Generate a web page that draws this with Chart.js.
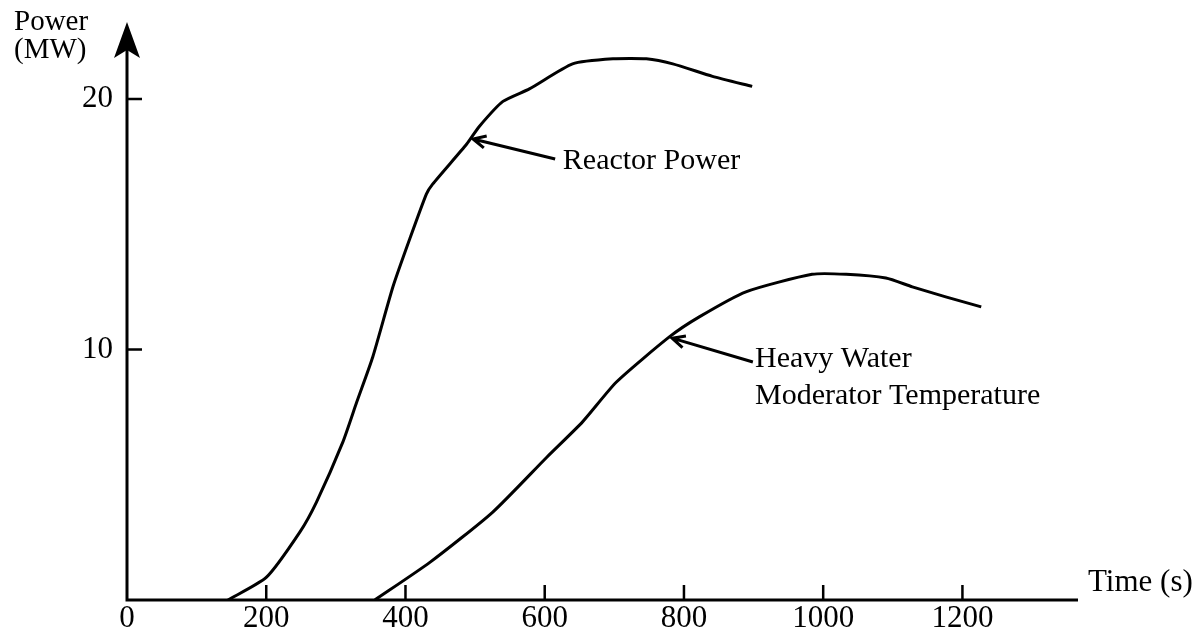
<!DOCTYPE html>
<html>
<head>
<meta charset="utf-8">
<script src="https://cdn.jsdelivr.net/npm/chart.js@4.4.1/dist/chart.umd.min.js"></script>
<style>
  html, body { margin: 0; padding: 0; background: #ffffff; }
  #wrap { width: 1196px; height: 629px; position: relative; }
</style>
</head>
<body>
<div id="wrap"><canvas id="c" width="1196" height="629"></canvas></div>
<script>
// ---- data ----
const reactorTime  = [145, 200, 248, 272, 310, 330, 353, 382, 406, 430, 439, 488, 506, 540, 578, 640, 698, 746, 784, 841, 898];
const reactorPower = [0, 0.9, 2.7, 3.9, 6.3, 7.9, 9.7, 12.5, 14.4, 16.2, 16.6, 18.2, 18.9, 19.9, 20.4, 21.4, 21.6, 21.6, 21.4, 20.9, 20.5];

const moderatorTime  = [356, 435, 525, 603, 654, 703, 779, 822, 889, 984, 1033, 1090, 1128, 1176, 1227];
const moderatorValue = [0, 1.5, 3.5, 5.7, 7.1, 8.7, 10.5, 11.3, 12.3, 13.0, 13.0, 12.85, 12.5, 12.1, 11.7];

const xTickValues = [0, 200, 400, 600, 800, 1000, 1200];
const yTickValues = [10, 20];

const yAxisTitle = ['Power', '(MW)'];
const xAxisTitle = 'Time (s)';
const reactorLabel = ['Reactor Power'];
const moderatorLabel = ['Heavy Water', 'Moderator Temperature'];

// ---- build chart ----
const FONT = '"Liberation Serif", "Times New Roman", serif';
const toXY = (xs, ys) => xs.map((x, i) => ({ x: x, y: ys[i] }));

const decorPlugin = {
  id: 'decor',
  afterDraw(chart, args, opts) {
    const ctx = chart.ctx;
    const xs = chart.scales.x, ys = chart.scales.y;
    const area = chart.chartArea;
    const x0 = xs.getPixelForValue(0), y0 = ys.getPixelForValue(0);
    ctx.save();
    ctx.strokeStyle = '#000';
    ctx.fillStyle = '#000';
    ctx.lineWidth = 3;
    ctx.lineCap = 'butt';
    // axes
    ctx.beginPath();
    ctx.moveTo(x0 - 1.5, y0); ctx.lineTo(area.right, y0);
    ctx.moveTo(x0, y0); ctx.lineTo(x0, area.top + 20);
    ctx.stroke();
    // arrow head on y axis
    ctx.beginPath();
    ctx.moveTo(x0, area.top);
    ctx.lineTo(x0 + 13, area.top + 36);
    ctx.lineTo(x0, area.top + 28);
    ctx.lineTo(x0 - 13, area.top + 36);
    ctx.closePath();
    ctx.fill();
    // inward tick marks
    ctx.lineWidth = 2.5;
    ctx.beginPath();
    xTickValues.forEach(v => {
      if (v === 0) return;
      const px = xs.getPixelForValue(v);
      ctx.moveTo(px, y0); ctx.lineTo(px, y0 - 15);
    });
    yTickValues.forEach(v => {
      const py = ys.getPixelForValue(v);
      ctx.moveTo(x0, py); ctx.lineTo(x0 + 15, py);
    });
    ctx.stroke();

    // texts
    ctx.font = '29px ' + FONT;
    ctx.textBaseline = 'middle';
    ctx.textAlign = 'left';
    ctx.fillText(yAxisTitle[0], 14, 22);
    ctx.fillText(yAxisTitle[1], 14, 50);
    ctx.font = '31px ' + FONT;
    ctx.fillText(xAxisTitle, area.right + 10, y0 - 17);

    // annotations
    ctx.font = '30px ' + FONT;
    opts.notes.forEach(n => {
      const tx = xs.getPixelForValue(n.tip[0]), ty = ys.getPixelForValue(n.tip[1]);
      const fx = xs.getPixelForValue(n.tail[0]), fy = ys.getPixelForValue(n.tail[1]);
      ctx.lineWidth = 3;
      ctx.beginPath();
      ctx.moveTo(fx, fy); ctx.lineTo(tx, ty);
      const ang = Math.atan2(fy - ty, fx - tx);
      const L = 14, sp = 0.45;
      ctx.moveTo(tx + L * Math.cos(ang + sp), ty + L * Math.sin(ang + sp));
      ctx.lineTo(tx, ty);
      ctx.lineTo(tx + L * Math.cos(ang - sp), ty + L * Math.sin(ang - sp));
      ctx.stroke();
      const lx = xs.getPixelForValue(n.text[0]), ly = ys.getPixelForValue(n.text[1]);
      n.lines.forEach((s, i) => ctx.fillText(s, lx, ly + i * 37));
    });
    ctx.restore();
  }
};

new Chart(document.getElementById('c'), {
  type: 'line',
  data: {
    datasets: [
      { label: 'Reactor Power', data: toXY(reactorTime, reactorPower),
        borderColor: '#000', borderWidth: 3, pointRadius: 0, tension: 0.2, fill: false },
      { label: 'Heavy Water Moderator Temperature', data: toXY(moderatorTime, moderatorValue),
        borderColor: '#000', borderWidth: 3, pointRadius: 0, tension: 0.2, fill: false }
    ]
  },
  options: {
    responsive: false,
    animation: false,
    events: [],
    layout: { padding: { left: 67, right: 118, top: 22, bottom: 0 } },
    plugins: {
      legend: { display: false },
      tooltip: { enabled: false },
      decor: {
        notes: [
          { tip: [497, 18.4], tail: [615, 17.6], text: [626, 17.5], lines: reactorLabel },
          { tip: [783, 10.45], tail: [899, 9.5], text: [902, 9.6], lines: moderatorLabel }
        ]
      }
    },
    scales: {
      x: {
        type: 'linear', min: 0, max: 1366,
        grid: { display: false, drawTicks: false },
        border: { display: false },
        afterBuildTicks: s => { s.ticks = xTickValues.map(v => ({ value: v })); },
        afterFit: s => { s.height = 29; s.paddingLeft = 0; s.paddingRight = 0; },
        ticks: { color: '#000', font: { family: FONT, size: 31 }, padding: 0, maxRotation: 0, autoSkip: false,
                 callback: v => String(v) }
      },
      y: {
        type: 'linear', min: 0, max: 23.07,
        grid: { display: false, drawTicks: false },
        border: { display: false },
        afterBuildTicks: s => { s.ticks = yTickValues.map(v => ({ value: v })); },
        afterFit: s => { s.width = 60; s.paddingTop = 0; s.paddingBottom = 0; },
        ticks: { color: '#000', font: { family: FONT, size: 31 }, padding: 14, callback: v => String(v) }
      }
    }
  },
  plugins: [decorPlugin]
});
</script>
</body>
</html>
